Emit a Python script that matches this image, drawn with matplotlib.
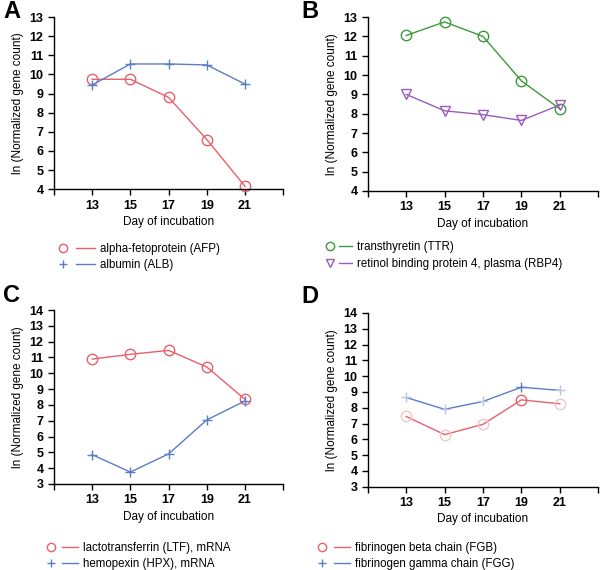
import matplotlib
matplotlib.use("Agg")
import matplotlib.pyplot as plt
from matplotlib.lines import Line2D
from matplotlib.legend_handler import HandlerTuple

plt.rcParams['font.family'] = ['Liberation Sans', 'DejaVu Sans']

days = [13, 15, 17, 19, 21]

afp = [9.75, 9.75, 8.8, 6.6, 4.15]
alb = [9.45, 10.55, 10.55, 10.5, 9.5]

ttr = [12.05, 12.75, 12.0, 9.7, 8.25]
rbp4 = [9.0, 8.15, 7.95, 7.65, 8.45]

ltf = [10.9, 11.2, 11.45, 10.4, 8.35]
hpx = [4.85, 3.75, 4.9, 7.05, 8.25]

fgb = [7.45, 6.3, 6.95, 8.5, 8.25]
fgg = [8.65, 7.9, 8.4, 9.3, 9.1]

red = '#e8606b'
blue = '#5b7dc6'
green = '#3c9a3c'
purple = '#9a5cb8'
pale = {red: '#efc6ca', blue: '#b9c6e6'}

# markers in panel D are faded except day 19
d_strong = [False, False, False, True, False]

panels = [
    ("A", [0.09, 0.668, 0.382, 0.302], (4, 13),
     [(afp, "alpha-fetoprotein (AFP)", red, 'o'), (alb, "albumin (ALB)", blue, '+')],
     (-0.003, -0.31), 3.65, (0.005, 0.979), None),
    ("B", [0.613, 0.665, 0.384, 0.305], (4, 13),
     [(ttr, "transthyretin (TTR)", green, 'o'), (rbp4, "retinol binding protein 4, plasma (RBP4)", purple, 'v')],
     (-0.193, -0.29), 2.5, (0.503, 0.979), None),
    ("C", [0.09, 0.151, 0.382, 0.305], (3, 14),
     [(ltf, "lactotransferrin (LTF), mRNA", red, 'o'), (hpx, "hemopexin (HPX), mRNA", blue, '+')],
     (-0.048, -0.333), 3.05, (0.005, 0.482), None),
    ("D", [0.613, 0.146, 0.384, 0.305], (3, 14),
     [(fgb, "fibrinogen beta chain (FGB)", red, 'o'), (fgg, "fibrinogen gamma chain (FGG)", blue, '+')],
     (-0.235, -0.316), 3.15, (0.503, 0.479), d_strong),
]

fig = plt.figure(figsize=(6, 5.7), dpi=100)

for letter, pos, ylim, series, legxy, hlen, letpos, strong in panels:
    ax = fig.add_axes(pos)
    handles = []
    labels = []
    for vals, lab, col, mk in series:
        ms = 7.5 if mk == 'o' else 6.5
        if strong is None:
            ax.plot(days, vals, color=col, lw=1.0, marker=mk, ms=ms,
                    mfc='none', mec=col, mew=1.0, clip_on=False)
        else:
            ax.plot(days, vals, color=col, lw=1.0, clip_on=False)
            ecs = [col if s else pale[col] for s in strong]
            for d, v, ec in zip(days, vals, ecs):
                ax.plot(d, v, ls='none', marker=mk, ms=ms, mfc='none', mec=ec,
                        mew=1.0, clip_on=False)
        handles.append((Line2D([], [], ls='none', marker=mk, ms=6, mfc='none', mec=col, mew=1.0),
                        Line2D([], [], color=col, lw=1.0)))
        labels.append(lab)
    ax.set_xlim(11, 23)
    ax.set_ylim(*ylim)
    ax.set_xticks(days)
    ax.set_xticks([11, 23], minor=True)
    ax.set_yticks(range(ylim[0], ylim[1] + 1))
    for s in ['top', 'right']:
        ax.spines[s].set_visible(False)
    for s in ['left', 'bottom']:
        ax.spines[s].set_linewidth(1.0)
    ax.tick_params(which='both', direction='out', length=4, width=1.0, labelsize=9)
    ax.set_xlabel("Day of incubation", fontsize=8.5, labelpad=3)
    ax.set_ylabel("ln (Normalized gene count)", fontsize=8.5, labelpad=4)
    for t in ax.get_xticklabels() + ax.get_yticklabels():
        t.set_fontweight('bold')
    ax.legend(handles, labels, handler_map={tuple: HandlerTuple(ndivide=None, pad=0.3)},
              loc='upper left', bbox_to_anchor=legxy, frameon=False,
              fontsize=8.3, handlelength=hlen, handletextpad=0.4, labelspacing=0.38,
              borderaxespad=0, borderpad=0)
    fig.text(letpos[0], letpos[1], letter, fontsize=17,
             fontweight='bold', ha='left', va='center')

fig.savefig("out.png", dpi=100)
